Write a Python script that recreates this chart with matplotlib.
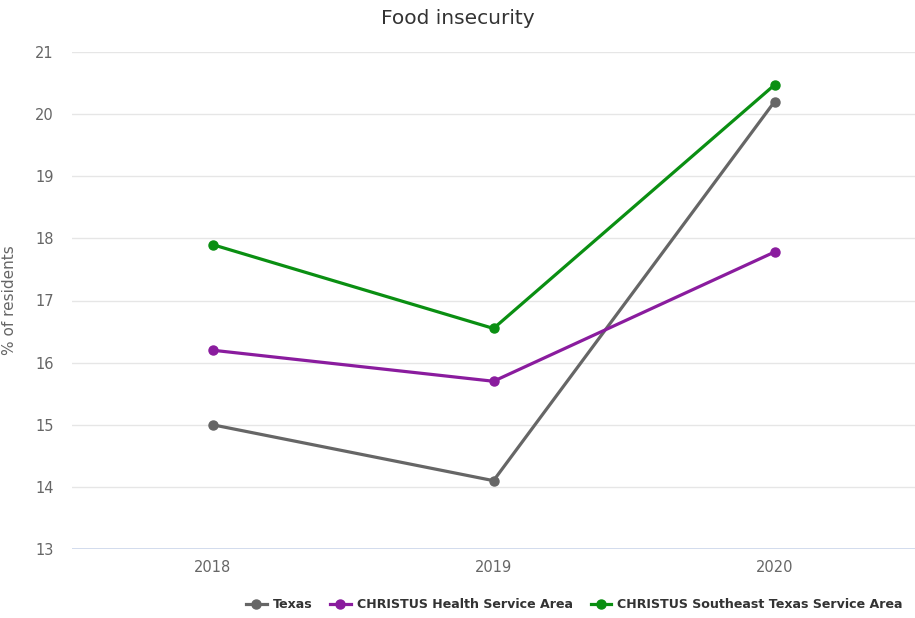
import matplotlib

matplotlib.use("Agg")
import matplotlib.pyplot as plt
from matplotlib.lines import Line2D

years = ["2018", "2019", "2020"]
series_names = ["Texas", "CHRISTUS Health Service Area", "CHRISTUS Southeast Texas Service Area"]
texas = [15.0, 14.1, 20.2]
christus_health = [16.2, 15.7, 17.78]
christus_southeast = [17.9, 16.55, 20.47]
y_ticks = [13, 14, 15, 16, 17, 18, 19, 20, 21]

colors = ["#666666", "#8a1c9e", "#0a8f12"]

plt.rcParams["font.family"] = ["DejaVu Sans"]

fig = plt.figure(figsize=(9.15, 6.18), dpi=100)
ax = fig.add_axes([72 / 915, 1 - 549 / 618, (915 - 72) / 915, (549 - 52) / 618])

x = list(range(len(years)))
handles = []
for values, name, color in zip([texas, christus_health, christus_southeast], series_names, colors):
    ax.plot(x, values, color=color, linewidth=2.3, marker="o", markersize=6.5,
            solid_capstyle="round", zorder=3)
    handles.append(Line2D([0], [0], color=color, linewidth=2.3, marker="o", markersize=6.5,
                          label=name))

ax.set_xlim(-0.5, len(years) - 0.5)
ax.set_ylim(13, 21)
ax.set_xticks(x)
ax.set_xticklabels(years)
ax.set_yticks(y_ticks)

for spine in ax.spines.values():
    spine.set_visible(False)
ax.grid(axis="y", color="#e6e6e6", linewidth=1)
ax.set_axisbelow(True)
ax.axhline(13, color="#ccd6eb", linewidth=1.2, zorder=1)
ax.tick_params(axis="both", length=0, colors="#666666", labelsize=10.5)
ax.tick_params(axis="y", pad=13)
ax.tick_params(axis="x", pad=8)

ax.set_ylabel("% of residents", color="#666666", fontsize=11)
ax.yaxis.set_label_coords(-55 / 843, 0.5)

fig.text(0.5, 1 - 18 / 618, "Food insecurity", ha="center", va="center",
         fontsize=14.5, color="#333333")

leg = fig.legend(handles=handles, loc="center right", bbox_to_anchor=(914 / 915, 1 - 605 / 618),
                 ncol=3, frameon=False, handlelength=1.6, handletextpad=0.5, columnspacing=1.4,
                 prop={"weight": "bold", "size": 9.1})
for text in leg.get_texts():
    text.set_color("#333333")

fig.savefig("out.png", dpi=100)
